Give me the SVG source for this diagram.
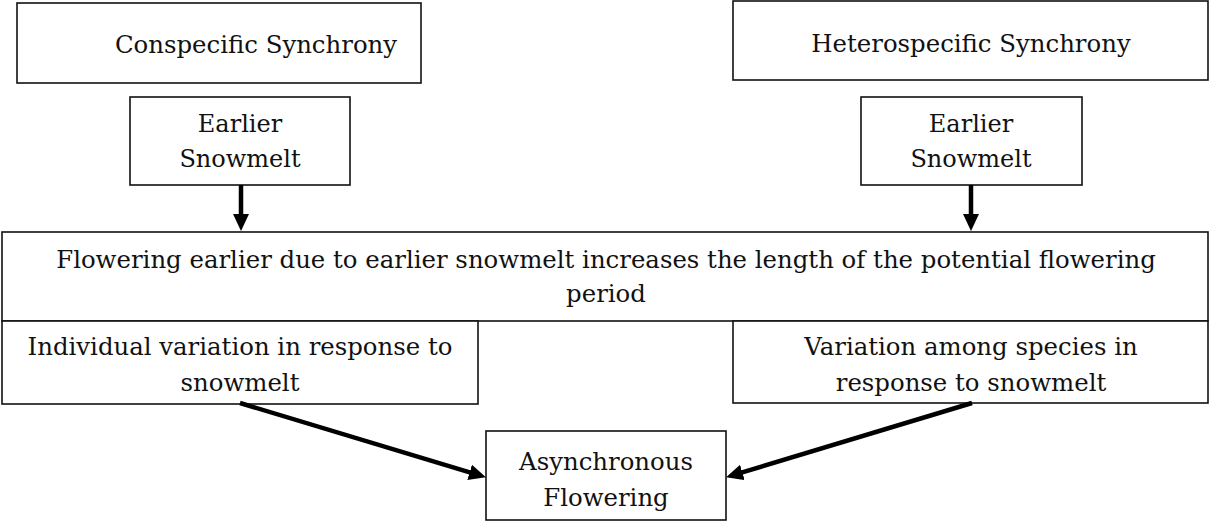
<svg xmlns="http://www.w3.org/2000/svg" width="1210" height="523" viewBox="0 0 1210 523">
<style>
.box{fill:#fff;stroke:#111;stroke-width:1.6}
.t{font-family:"DejaVu Serif","Liberation Serif",serif;fill:#111;text-anchor:middle}
.h{font-size:24.4px}
.m{font-size:24.4px}
.e{font-size:24px}
.c{fill:none;stroke:#000;stroke-width:4.5}
</style>
<defs>
<marker id="ah" markerUnits="userSpaceOnUse" markerWidth="17" markerHeight="16" refX="1" refY="8" orient="auto" viewBox="0 0 17 16">
<path d="M0,0 L17,8 L0,16 z" fill="#000"/>
</marker>
</defs>
<rect width="1210" height="523" fill="#fff"/>
<g id="conspecific">
<rect class="box" x="17" y="3" width="404" height="80"/>
<text class="t h" x="256" y="53">Conspecific Synchrony</text>
</g>
<g id="heterospecific">
<rect class="box" x="733" y="1" width="475" height="79"/>
<text class="t h" x="971" y="52">Heterospecific Synchrony</text>
</g>
<g id="snowmelt-left">
<rect class="box" x="130" y="97" width="220" height="88"/>
<text class="t e" x="240" y="132">Earlier</text>
<text class="t e" x="240" y="167">Snowmelt</text>
</g>
<g id="snowmelt-right">
<rect class="box" x="861" y="97" width="221" height="88"/>
<text class="t e" x="971" y="132">Earlier</text>
<text class="t e" x="971" y="167">Snowmelt</text>
</g>
<g id="flowering-earlier">
<rect class="box" x="2" y="232" width="1206" height="89"/>
<text class="t m" x="606" y="268">Flowering earlier due to earlier snowmelt increases the length of the potential flowering</text>
<text class="t m" x="606" y="302">period</text>
</g>
<g id="individual-variation">
<rect class="box" x="2" y="321" width="476" height="83"/>
<text class="t m" x="240" y="355">Individual variation in response to</text>
<text class="t m" x="240" y="391">snowmelt</text>
</g>
<g id="species-variation">
<rect class="box" x="733" y="321" width="475" height="82"/>
<text class="t m" x="971" y="355">Variation among species in</text>
<text class="t m" x="971" y="391">response to snowmelt</text>
</g>
<g id="asynchronous">
<rect class="box" x="486" y="431" width="240" height="89"/>
<text class="t m" x="606" y="470">Asynchronous</text>
<text class="t m" x="606" y="506">Flowering</text>
</g>
<g id="connectors">
<line class="c" x1="241" y1="185" x2="241" y2="215" marker-end="url(#ah)"/>
<line class="c" x1="971" y1="185" x2="971" y2="215" marker-end="url(#ah)"/>
<line class="c" x1="240" y1="403" x2="470.6" y2="472.7" marker-end="url(#ah)"/>
<line class="c" x1="972" y1="403" x2="741.4" y2="472.7" marker-end="url(#ah)"/>
</g>
</svg>
